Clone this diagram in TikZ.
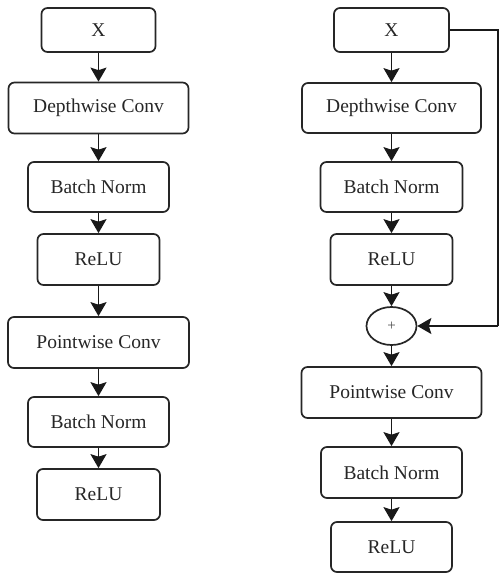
\documentclass[tikz,border=0pt]{standalone}
\usepackage{fontspec}
\setmainfont{Liberation Serif}
\usetikzlibrary{arrows.meta,shapes.geometric}
\begin{document}
\begin{tikzpicture}[x=1pt,y=-1pt,
  blk/.style={draw=black!85, line width=1.7pt, rounded corners=6pt, inner sep=0pt,
    font=\fontsize{19.5}{22}\selectfont, text=black!85},
  flow/.style={draw=black!90, line width=1.8pt, -{Stealth[width=16pt,length=14pt,inset=2.5pt]}},
  skipline/.style={draw=black!90, line width=1.5pt}]
\useasboundingbox (0,0) rectangle (500,574);
% left column
\node[blk, minimum width=114pt, minimum height=44pt] (lx) at (98.5,30) {X};
\node[blk, minimum width=180pt, minimum height=51pt] (ldw) at (98.5,108) {Depthwise Conv};
\node[blk, minimum width=141pt, minimum height=50pt] (lbn) at (98.5,187) {Batch Norm};
\node[blk, minimum width=122pt, minimum height=51pt] (lre) at (98.5,259.5) {ReLU};
\node[blk, minimum width=181pt, minimum height=51pt] (lpw) at (98.5,342.5) {Pointwise Conv};
\node[blk, minimum width=141pt, minimum height=50pt] (lbn2) at (98.5,422) {Batch Norm};
\node[blk, minimum width=123pt, minimum height=51pt] (lre2) at (98.5,494.5) {ReLU};
\draw[flow] (lx) -- (ldw);
\draw[flow] (ldw) -- (lbn);
\draw[flow] (lbn) -- (lre);
\draw[flow] (lre) -- (lpw);
\draw[flow] (lpw) -- (lbn2);
\draw[flow] (lbn2) -- (lre2);
% right column
\node[blk, minimum width=115pt, minimum height=44pt] (rx) at (391.5,30) {X};
\node[blk, minimum width=179pt, minimum height=50pt] (rdw) at (391.5,108) {Depthwise Conv};
\node[blk, minimum width=142pt, minimum height=50pt] (rbn) at (391.5,187) {Batch Norm};
\node[blk, minimum width=122pt, minimum height=51pt] (rre) at (391.5,259.5) {ReLU};
\node[draw=black!85, line width=1.7pt, ellipse, inner sep=0pt, minimum width=50pt, minimum height=38pt,
  font=\fontsize{15}{16}\selectfont, text=black!70] (add) at (391.5,326) {+};
\node[blk, minimum width=180pt, minimum height=51pt] (rpw) at (391.5,392.5) {Pointwise Conv};
\node[blk, minimum width=141pt, minimum height=51pt] (rbn2) at (391.5,472.5) {Batch Norm};
\node[blk, minimum width=121pt, minimum height=50pt] (rre2) at (391.5,547) {ReLU};
\coordinate (sk1) at (498,30);
\coordinate (sk2) at (498,326);
\draw[flow] (rx) -- (rdw);
\draw[flow] (rdw) -- (rbn);
\draw[flow] (rbn) -- (rre);
\draw[flow] (rre) -- (add);
\draw[flow] (add) -- (rpw);
\draw[flow] (rpw) -- (rbn2);
\draw[flow] (rbn2) -- (rre2);
\draw[skipline] (rx.east) -- (sk1) -- (sk2);
\draw[flow, line width=1.5pt] (sk2) -- (add.east);
\end{tikzpicture}
\end{document}
